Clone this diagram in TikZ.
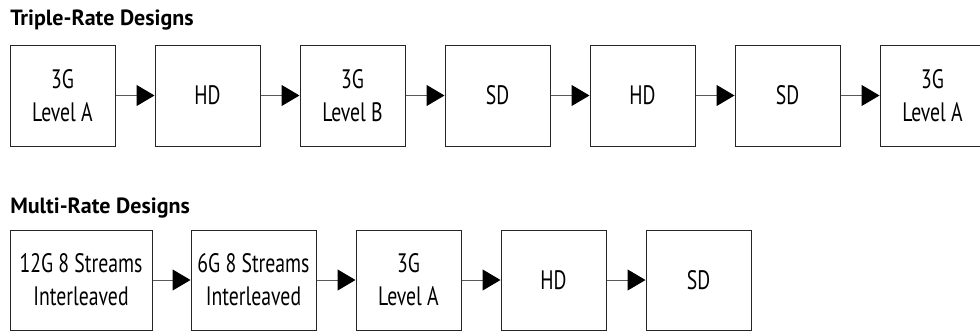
\documentclass[tikz,border=0pt]{standalone}
\usepackage{fontspec}
\setmainfont{PT Sans}[FakeStretch=0.74]
\newfontfamily\ttlfont{PT Sans Bold}
\usetikzlibrary{arrows.meta}

\def\mywidth{78.75pt}
\def\myheight{75.75pt}

\tikzset{
  blk/.style={draw=black!85, line width=0.75pt, minimum width=\mywidth,
    minimum height=\myheight, inner sep=0pt, align=center,
    font=\fontsize{20}{24.75}\selectfont},
  link/.style={draw=black!65, line width=0.75pt,
    -{Triangle[length=13.5pt,width=15.75pt,color=black]}},
  ttl/.style={anchor=base west, inner sep=0pt,
    font=\ttlfont\fontsize{16.5}{20}\selectfont}
}

\begin{document}
\begin{tikzpicture}[x=0.75pt,y=0.75pt]
    \useasboundingbox (0,0) rectangle (980,333);

    \node[ttl] (tripleTitle) at (10,308) {Triple-Rate Designs};
    \foreach \i/\x/\lbl in {1/62.5/{3G\\Level A},2/207.5/HD,3/352.5/{3G\\Level B},
        4/497.5/SD,5/642.5/HD,6/787.5/SD,7/932.5/{3G\\Level A}} {
      \node[blk] (t\i) at (\x,237.5) {\lbl};
    }
    \foreach \i/\j in {1/2,2/3,3/4,4/5,5/6,6/7}
      \draw[link] (t\i.east) -- (t\j.west);

    \node[ttl] (multiTitle) at (10,120) {Multi-Rate Designs};
    \foreach \i/\x/\w/\lbl in {1/81/106.5pt/{12G 8 Streams\\Interleaved},
        2/253.5/93.75pt/{6G 8 Streams\\Interleaved},3/408.5/\mywidth/{3G\\Level A},
        4/553.5/\mywidth/HD,5/698.5/\mywidth/SD} {
      \node[blk, minimum width=\w, minimum height=75pt] (m\i) at (\x,53) {\lbl};
    }
    \foreach \i/\j in {1/2,2/3,3/4,4/5}
      \draw[link] (m\i.east) -- (m\j.west);
\end{tikzpicture}
\end{document}
